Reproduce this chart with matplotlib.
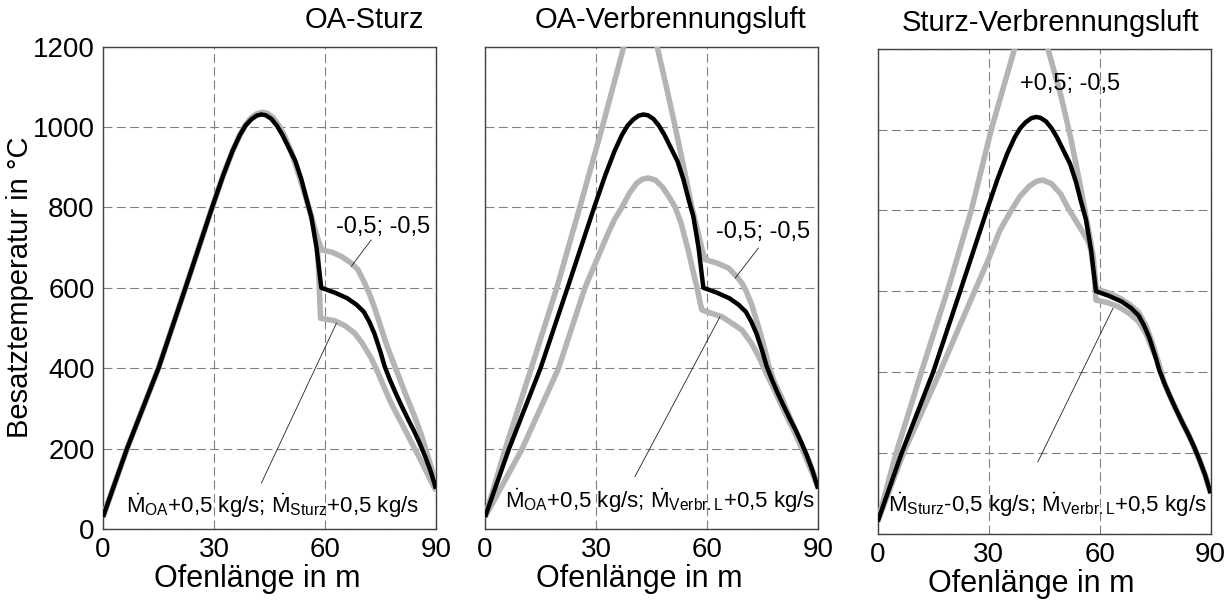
import matplotlib
matplotlib.use("Agg")
import matplotlib.pyplot as plt

plt.rcParams['font.family'] = ['Liberation Sans', 'DejaVu Sans']
plt.rcParams['mathtext.fontset'] = 'custom'
plt.rcParams['mathtext.rm'] = 'Liberation Sans'
plt.rcParams['mathtext.it'] = 'Liberation Sans:italic'

# Referenzfall (schwarz), in allen drei Diagrammen gleich
ref_x = [0, 6.5, 15, 22.3, 29.5, 32.5, 35, 37, 38.5, 40, 41.5, 42.8, 44, 45.5, 47, 48.5, 50, 52,
         53.6, 55, 56.3, 57.7, 59.0, 62.6, 66, 68.5, 70.5, 72, 73.4, 75, 76.1, 77.5, 79, 80.6, 82.5,
         84, 85.5, 87, 88.5, 90]
ref_y = [30, 200, 400, 600, 800, 880, 940, 980, 1003, 1018, 1028, 1031, 1029, 1020, 1003, 980, 952, 915,
         870, 820, 777, 700, 600, 588, 574, 558, 540, 515, 485, 440, 405, 372, 340, 308, 272,
         245, 215, 182, 145, 100]

# OA-Sturz
p1_hi_x = [0, 6.5, 15, 22.3, 29.5, 32.5, 35, 37, 38.5, 40, 41.5, 43, 44.5, 46, 47.5, 49, 51, 53, 55,
           56.8, 58.3, 59.2, 62, 64.4, 67, 68.9, 70.7, 72, 73.4, 75, 76.5, 78, 80, 82, 84, 86, 88, 90]
p1_hi_y = [30, 200, 400, 600, 800, 880, 940, 980, 1005, 1022, 1032, 1036, 1033, 1022, 1003, 978, 935, 880, 820,
           760, 715, 694, 688, 678, 662, 645, 612, 585, 550, 505, 462, 425, 378, 330, 285, 235, 175, 112]
p1_lo_x = [0, 6.5, 15, 22.3, 29.5, 32.5, 35, 37, 38.5, 40, 41.5, 43, 44.5, 46, 47.5, 49, 51, 53, 55,
           56.8, 58.0, 58.8, 62.6, 65.5, 68, 70, 72.5, 74.5, 76.1, 78, 80.6, 83, 85.1, 87, 88.7, 90]
p1_lo_y = [30, 200, 400, 600, 800, 880, 940, 980, 1005, 1022, 1032, 1036, 1033, 1022, 1003, 978, 935, 880, 820,
           760, 700, 524, 518, 505, 487, 463, 425, 385, 350, 310, 265, 222, 185, 150, 118, 95]

# OA-Verbrennungsluft
p2_hi_x = [0, 5.5, 12.5, 19.4, 25.6, 31.7, 37.5, 40, 42, 44, 46.5, 49, 51.4, 53.7, 55.9, 57.5, 58.8, 59.5,
           62.5, 65.8, 68, 69.4, 70.4, 72, 74, 75.5, 76.7, 78, 80, 82.5, 85, 87.5, 90]
p2_hi_y = [30, 200, 400, 600, 800, 1000, 1200, 1270, 1295, 1280, 1200, 1100, 1000, 900, 800, 740, 690, 670,
           662, 649, 628, 612, 595, 560, 500, 450, 405, 370, 330, 275, 222, 170, 108]
p2_lo_x = [0, 9.9, 19.8, 27, 30, 33, 35, 37, 39, 41, 42.5, 44.1, 46, 48, 50, 51.4, 53, 55, 56.5, 57.3, 58.2,
           58.6, 61, 64, 67, 69.4, 72, 73.9, 76, 78.4, 81, 83.8, 86.5, 89.2, 90]
p2_lo_y = [30, 197, 398, 600, 665, 730, 770, 800, 835, 860, 870, 873, 868, 850, 822, 800, 760, 690, 630, 600, 560,
           545, 537, 528, 510, 495, 462, 430, 388, 342, 290, 238, 182, 122, 105]

# Sturz-Verbrennungsluft
p3_hi_x = [0, 5, 11.8, 19.5, 25.3, 30.7, 37, 39.5, 41.5, 43.5, 46, 49.6, 52.3, 55, 57.3, 58.2, 59.1,
           62, 65, 68, 70.5, 72.5, 74, 75.5, 77.5, 79, 80.6, 82.5, 84, 85.5, 87, 88.5, 90]
p3_hi_y = [30, 200, 400, 620, 800, 1000, 1200, 1265, 1285, 1270, 1200, 1081, 974, 850, 735, 690, 605,
           597, 585, 568, 548, 515, 478, 435, 372, 340, 308, 272, 245, 215, 182, 145, 100]
p3_lo_x = [0, 7, 16.8, 26.2, 30, 33, 36.1, 38.5, 41, 43, 44.6, 47, 49.5, 51.5, 53.5, 55.5, 56.8, 57.7, 58.5,
           59.0, 62, 65, 68, 70.5, 72.5, 74, 75.5, 77.5, 79, 80.6, 82.5, 84, 85.5, 87, 88.5, 90]
p3_lo_y = [30, 200, 400, 600, 680, 750, 800, 835, 860, 872, 875, 866, 840, 805, 775, 745, 725, 700, 640,
           578, 572, 562, 545, 525, 495, 462, 430, 372, 340, 308, 272, 245, 215, 182, 145, 100]

titles = ["OA-Sturz", "OA-Verbrennungsluft", "Sturz-Verbrennungsluft"]
x_ticks = [0, 30, 60, 90]
y_ticks = [0, 200, 400, 600, 800, 1000, 1200]

# Beschriftungen: Text, Textposition, Hinweislinie (Start, Ende)
small_labels = ["-0,5; -0,5", "-0,5; -0,5", "+0,5; -0,5"]
small_pos = [(75.6, 737), (75.1, 723), (52.1, 1098)]
small_lead = [((72.5, 719), (67.1, 653)), ((73.9, 699), (67.6, 624)), None]
big_labels = [r"$\dot{\mathrm{M}}_{\mathrm{OA}}$+0,5 kg/s; $\dot{\mathrm{M}}_{\mathrm{Sturz}}$+0,5 kg/s",
              r"$\dot{\mathrm{M}}_{\mathrm{OA}}$+0,5 kg/s; $\dot{\mathrm{M}}_{\mathrm{Verbr.L}}$+0,5 kg/s",
              r"$\dot{\mathrm{M}}_{\mathrm{Sturz}}$-0,5 kg/s; $\dot{\mathrm{M}}_{\mathrm{Verbr.L}}$+0,5 kg/s"]
big_pos = [(45.7, 40), (47.3, 52), (45.8, 54)]
big_lead = [((42.8, 114), (63.1, 512)), ((40.5, 130), (63.5, 528)), ((43.3, 178), (63.6, 558))]

grays = [(p1_hi_x, p1_hi_y, p1_lo_x, p1_lo_y),
         (p2_hi_x, p2_hi_y, p2_lo_x, p2_lo_y),
         (p3_hi_x, p3_hi_y, p3_lo_x, p3_lo_y)]

fig = plt.figure(figsize=(12.32, 6.04), dpi=100)
rects = [[0.0836, 0.1242, 0.2703, 0.7988],
         [0.3937, 0.1242, 0.2703, 0.7988],
         [0.7124, 0.1164, 0.2703, 0.8030]]

for i, r in enumerate(rects):
    ax = fig.add_axes(r)
    hx, hy, lx, ly = grays[i]
    ax.plot(hx, hy, color='#b4b4b4', lw=4.0, solid_joinstyle='round', solid_capstyle='butt', zorder=3)
    ax.plot(lx, ly, color='#b4b4b4', lw=4.0, solid_joinstyle='round', solid_capstyle='butt', zorder=3)
    ax.plot(ref_x, ref_y, color='black', lw=3.2, solid_joinstyle='round', solid_capstyle='butt', zorder=4)

    ax.set_xlim(0, 90)
    ax.set_ylim(0, 1200)
    ax.set_xticks(x_ticks)
    ax.set_yticks(y_ticks)
    ax.grid(True, color='#808080', lw=0.8, ls=(0, (8, 4)))
    ax.tick_params(length=0, labelsize=20, pad=6)
    if i > 0:
        ax.set_yticklabels([])
    else:
        ax.set_ylabel("Besatztemperatur in °C", fontsize=21, va='center')
        ax.yaxis.set_label_coords(-0.25, 0.5)
    ax.set_xlabel("Ofenlänge in m", fontsize=22, va='center')
    ax.xaxis.set_label_coords(0.462, -0.104)
    for s in ax.spines.values():
        s.set_color('#404040')
        s.set_linewidth(1.0)

    ax.text(0.965, 1.025, titles[i], transform=ax.transAxes, ha='right', va='bottom', fontsize=21)

    ax.text(small_pos[i][0], small_pos[i][1], small_labels[i], ha='center', va='baseline', fontsize=17, zorder=6)
    if small_lead[i] is not None:
        (x0, y0), (x1, y1) = small_lead[i]
        ax.annotate('', xy=(x1, y1), xytext=(x0, y0),
                    arrowprops=dict(arrowstyle='-', lw=0.6, color='#202020', shrinkA=0, shrinkB=0), zorder=5)
    ax.text(big_pos[i][0], big_pos[i][1], big_labels[i], ha='center', va='baseline', fontsize=16, zorder=6)
    (x0, y0), (x1, y1) = big_lead[i]
    ax.annotate('', xy=(x1, y1), xytext=(x0, y0),
                arrowprops=dict(arrowstyle='-', lw=0.6, color='#202020', shrinkA=0, shrinkB=0), zorder=5)

fig.savefig("out.png", dpi=100)
